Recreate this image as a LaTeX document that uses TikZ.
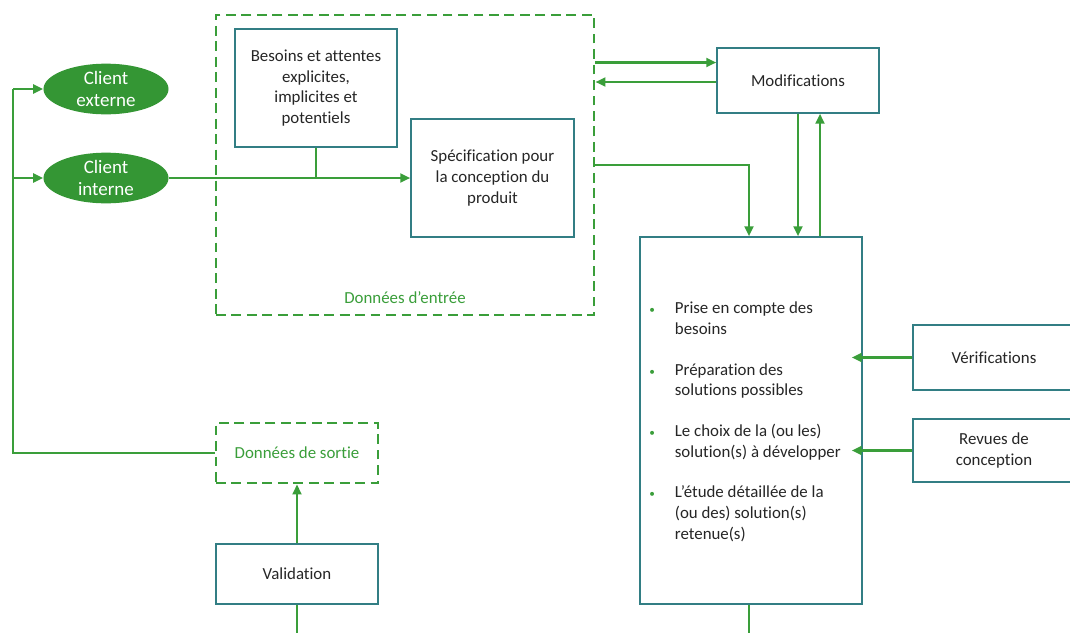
\documentclass[tikz,border=0pt]{standalone}
\usepackage{fontspec}
\setmainfont{Carlito}[Ligatures=NoCommon]
\usepackage{tikz}
\usetikzlibrary{shapes}
\usetikzlibrary{positioning}
\usetikzlibrary{arrows.meta}
\usetikzlibrary{calc}
\usepackage{xcolor}
\definecolor{leaf}{RGB}{58, 158, 58}
\definecolor{darkleaf}{RGB}{52, 150, 52}
\definecolor{teal}{RGB}{50, 126, 132}
\definecolor{ink}{RGB}{38, 38, 38}

\begin{document}
\begin{tikzpicture}[x=0.025cm,y=-0.025cm,
  font=\fontsize{12}{14.7}\selectfont,
  box/.style={draw=teal,line width=1pt,text=ink,align=center,minimum width=4.05cm,inner sep=2pt},
  client/.style={ellipse,fill=darkleaf,text=white,align=center,minimum width=3.125cm,minimum height=1.25cm,inner sep=0pt,font=\fontsize{13.5}{16}\selectfont},
  dashbox/.style={draw=leaf,line width=2pt,dash pattern=on 7pt off 4pt,text=leaf,minimum width=4.05cm},
  conn/.style={draw=leaf,line width=1.7pt},
  arr/.style={conn,-{Triangle[length=0.25cm,width=0.22cm]}}]
\clip (0,0) rectangle (1070,632);
\fill[white] (0,0) rectangle (1070,632);

\node[dashbox,minimum width=9.45cm,minimum height=7.5cm] (entree) at (405,165) {};
\node[text=leaf] (entlbl) at (405,298) {Données d’entrée};
\node[box,minimum height=2.95cm] (besoins) at (316,88) {Besoins et attentes\\explicites,\\implicites et\\potentiels};
\node[box,minimum width=4.075cm,minimum height=2.95cm] (spec) at (492.5,178) {Spécification pour\\la conception du\\produit};
\node[client] (ext) at (106,89) {Client\\externe};
\node[client] (int) at (106,178) {Client\\interne};
\node[box,minimum height=1.625cm] (modif) at (798,80.5) {Modifications};
\node[box,minimum width=5.55cm,minimum height=9.175cm] (big) at (751,420.5) {};
\node[text=ink,anchor=north west,inner sep=0pt] (list) at (649,299) {%
\begin{tabular}{@{}p{0.64cm}@{}l@{}}
\textcolor{leaf}{\footnotesize\textbullet} & Prise en compte des\\
 & besoins\\[0.5cm]
\textcolor{leaf}{\footnotesize\textbullet} & Préparation des\\
 & solutions possibles\\[0.5cm]
\textcolor{leaf}{\footnotesize\textbullet} & Le choix de la (ou les)\\
 & solution(s) à développer\\[0.5cm]
\textcolor{leaf}{\footnotesize\textbullet} & L’étude détaillée de la\\
 & (ou des) solution(s)\\
 & retenue(s)
\end{tabular}};
\node[box,minimum height=1.625cm] (verif) at (994,357.5) {Vérifications};
\node[box,minimum height=1.575cm] (revues) at (994,450.5) {Revues de\\conception};
\node[dashbox,minimum height=1.5cm] (sortie) at (297,453) {Données de sortie};
\node[box,minimum height=1.5cm] (valid) at (297,574) {Validation};

\coordinate (loopT) at (13,89);
\coordinate (mtop) at ($(modif.west)+(0,-18)$);
\coordinate (mbot) at ($(modif.west)+(0,1.5)$);
\coordinate (mup) at ($(modif.south)+(22,0)$);

\draw[conn] (sortie.west) -| (loopT);
\draw[arr] (loopT) -- (ext.west);
\draw[arr] (loopT |- int.west) -- (int.west);
\draw[arr] (int.east) -- (spec.west);
\draw[conn] (besoins.south) -- (besoins.south |- int.east);
\draw[arr] (entree.east |- mtop) -- (mtop);
\draw[arr] (mbot) -- (entree.east |- mbot);
\draw[arr] (entree.east) -| ($(big.north)+(-2,0)$);
\draw[arr] (modif.south) -- (modif.south |- big.north);
\draw[arr] (mup |- big.north) -- (mup);
\draw[arr,shorten >=-0.275cm] (verif.west) -- (verif.west -| big.east);
\draw[arr,shorten >=-0.275cm] (revues.west) -- (revues.west -| big.east);
\draw[arr] (valid.north) -- (sortie.south);
\draw[conn] (valid.south) -- ++(0,40);
\draw[conn] ($(big.south)+(-2,0)$) -- ++(0,40);
\end{tikzpicture}
\end{document}
